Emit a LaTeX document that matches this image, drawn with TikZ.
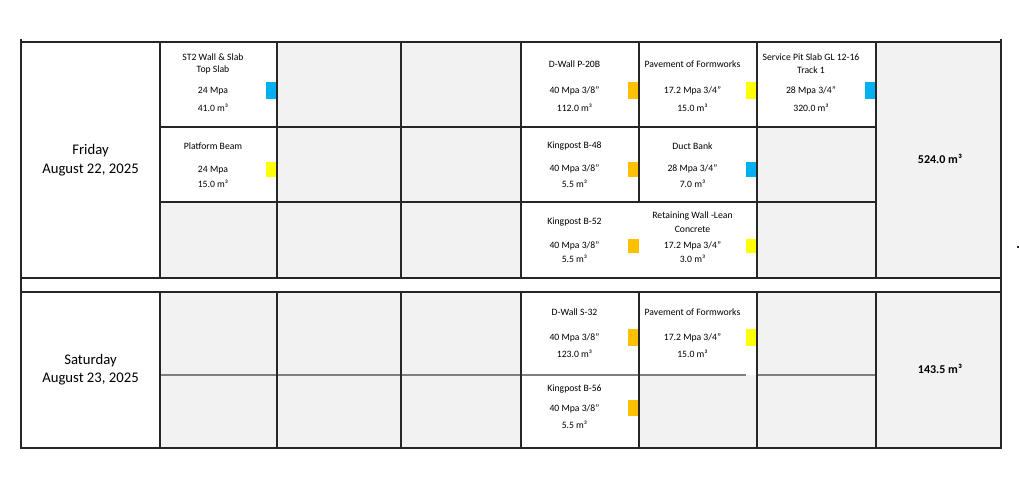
\documentclass[tikz,border=0pt]{standalone}
\usepackage{fontspec}
\setmainfont{Carlito}
\definecolor{cellgray}{HTML}{F2F2F2}
\definecolor{mblue}{HTML}{00B0F0}
\definecolor{myellow}{HTML}{FFFF00}
\definecolor{morange}{HTML}{FFC000}
\definecolor{gline}{HTML}{7F7F7F}
\definecolor{dline}{HTML}{262626}
\tikzset{
  txt/.style={font=\fontsize{9.7}{11}\selectfont, inner sep=0pt, anchor=center},
  daytxt/.style={font=\fontsize{14.7}{17}\selectfont, inner sep=0pt, anchor=center},
  tottxt/.style={font=\bfseries\fontsize{12}{14}\selectfont, inner sep=0pt, anchor=center},
  thick border/.style={draw=dline, line width=2pt},
  inner line/.style={draw=dline, line width=1.3pt},
  soft line/.style={draw=gline, line width=1.8pt},
}
\begin{document}
\begin{tikzpicture}[x=1pt,y=-1pt]
\useasboundingbox (0,0) rectangle (1019,493);
\fill[white] (0,0) rectangle (1019,493);
% gray fills
\fill[cellgray] (277,42) rectangle (521,277.5);
\fill[cellgray] (160,202) rectangle (277,277.5);
\fill[cellgray] (757,127) rectangle (876,277.5);
\fill[cellgray] (876,42) rectangle (1001,277.5);
\fill[cellgray] (160,291.5) rectangle (521,447.5);
\fill[cellgray] (639,375) rectangle (757,447.5);
\fill[cellgray] (757,291.5) rectangle (1001,447.5);
% markers
\fill[mblue] (266,81.7) rectangle (277,99);
\fill[morange] (628,81.7) rectangle (639,99);
\fill[myellow] (746,81.7) rectangle (757,99);
\fill[mblue] (865,81.7) rectangle (876,99);
\fill[myellow] (266,162.3) rectangle (277,176.7);
\fill[morange] (628,162.3) rectangle (639,176.7);
\fill[mblue] (746,162.3) rectangle (757,176.7);
\fill[morange] (628,239) rectangle (639,252.7);
\fill[myellow] (746,239) rectangle (757,252.7);
\fill[morange] (628,329) rectangle (639,346);
\fill[myellow] (746,329) rectangle (757,346);
\fill[morange] (628,400) rectangle (639,416);
% internal lines
\draw[inner line] (160,127) -- (876,127);
\draw[inner line] (160,202) -- (876,202);
\draw[soft line] (160,375) -- (746,375);
\draw[soft line] (757,375) -- (876,375);
\foreach \x in {277,401,521,757,876} {
  \draw[inner line] (\x,42) -- (\x,277.5);
  \draw[inner line] (\x,291.5) -- (\x,447.5);
}
\draw[inner line] (639,42) -- (639,202);
\draw[inner line] (639,291.5) -- (639,447.5);
\draw[draw=dline, line width=1.6pt] (160,42) -- (160,277.5);
\draw[draw=dline, line width=1.6pt] (160,291.5) -- (160,447.5);
% borders
\draw[thick border] (21,42) -- (1001,42);
\draw[thick border] (21,277.5) -- (1001,277.5);
\draw[thick border] (21,291.5) -- (1001,291.5);
\draw[thick border] (21,447.5) -- (1001,447.5);
\draw[thick border] (21,39) -- (21,448.5);
\draw[thick border] (1001,39) -- (1001,448.5);
\fill[dline] (1017,246) rectangle (1018.5,247.5);
% day labels
\node[daytxt] (fri1) at (90.5,150.7) {Friday};
\node[daytxt] (fri2) at (90.5,170.3) {August 22, 2025};
\node[daytxt] (sat1) at (90.5,360.7) {Saturday};
\node[daytxt] (sat2) at (90.5,379.3) {August 23, 2025};
% totals
\node[tottxt] (tot1) at (940,159.3) {524.0 m³};
\node[tottxt] (tot2) at (940,369) {143.5 m³};
% Friday row 1
\node[txt] (a1) at (213,56.7) {ST2 Wall \& Slab};
\node[txt] (a2) at (213,70) {Top Slab};
\node[txt] (a3) at (213,91) {24 Mpa};
\node[txt] (a4) at (213,107.7) {41.0 m³};
\node[txt] (b1) at (574.5,63.7) {D-Wall P-20B};
\node[txt] (b2) at (574.5,91) {40 Mpa 3/8"};
\node[txt] (b3) at (574.5,107.7) {112.0 m³};
\node[txt] (c1) at (692.5,63.7) {Pavement of Formworks};
\node[txt] (c2) at (692.5,91) {17.2 Mpa 3/4"};
\node[txt] (c3) at (692.5,107.7) {15.0 m³};
\node[txt] (d1) at (811,56.7) {Service Pit Slab GL 12-16};
\node[txt] (d2) at (811,70) {Track 1};
\node[txt] (d3) at (811,91) {28 Mpa 3/4"};
\node[txt] (d4) at (811,107.7) {320.0 m³};
% Friday row 2
\node[txt] (e1) at (213,146) {Platform Beam};
\node[txt] (e2) at (213,170) {24 Mpa};
\node[txt] (e3) at (213,184) {15.0 m³};
\node[txt] (f1) at (574.5,146) {Kingpost B-48};
\node[txt] (f2) at (574.5,169.3) {40 Mpa 3/8"};
\node[txt] (f3) at (574.5,183.3) {5.5 m³};
\node[txt] (g1) at (692.5,146) {Duct Bank};
\node[txt] (g2) at (692.5,169.3) {28 Mpa 3/4"};
\node[txt] (g3) at (692.5,183.3) {7.0 m³};
% Friday row 3
\node[txt] (h1) at (574.5,222) {Kingpost B-52};
\node[txt] (h2) at (574.5,245.7) {40 Mpa 3/8"};
\node[txt] (h3) at (574.5,258.7) {5.5 m³};
\node[txt] (i1) at (692.5,215.7) {Retaining Wall -Lean};
\node[txt] (i2) at (692.5,229) {Concrete};
\node[txt] (i3) at (692.5,245.7) {17.2 Mpa 3/4"};
\node[txt] (i4) at (692.5,258.7) {3.0 m³};
% Saturday row 1
\node[txt] (j1) at (574.5,312) {D-Wall S-32};
\node[txt] (j2) at (574.5,337.7) {40 Mpa 3/8"};
\node[txt] (j3) at (574.5,353.3) {123.0 m³};
\node[txt] (k1) at (692.5,312) {Pavement of Formworks};
\node[txt] (k2) at (692.5,337.7) {17.2 Mpa 3/4"};
\node[txt] (k3) at (692.5,353.3) {15.0 m³};
% Saturday row 2
\node[txt] (l1) at (574.5,388.7) {Kingpost B-56};
\node[txt] (l2) at (574.5,408.7) {40 Mpa 3/8"};
\node[txt] (l3) at (574.5,424.7) {5.5 m³};
\end{tikzpicture}
\end{document}
